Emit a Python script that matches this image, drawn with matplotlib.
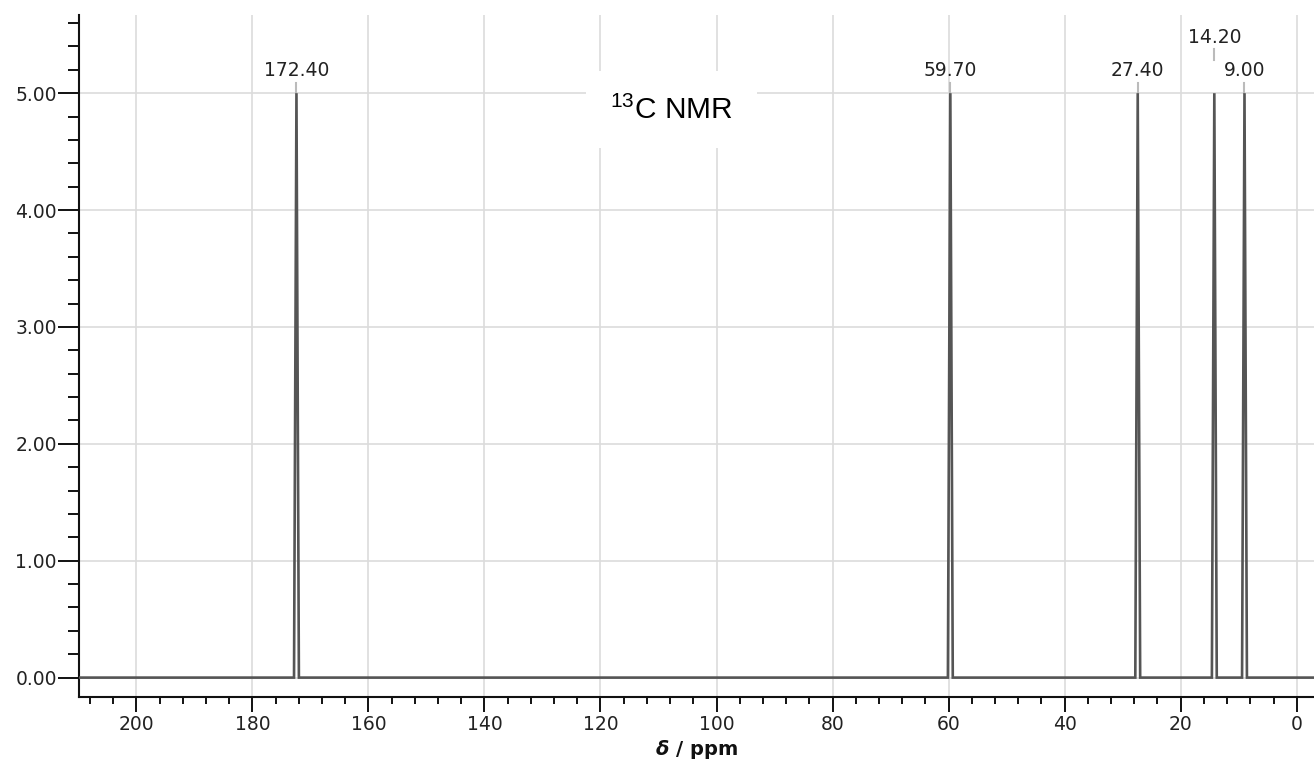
import numpy as np
import matplotlib
matplotlib.use("Agg")
import matplotlib.pyplot as plt
from matplotlib.ticker import MultipleLocator, FormatStrFormatter

plt.rcParams['mathtext.fontset'] = 'custom'
plt.rcParams['mathtext.rm'] = 'Liberation Sans'
plt.rcParams['mathtext.it'] = 'DejaVu Sans:italic'
plt.rcParams['mathtext.bf'] = 'DejaVu Sans:bold'
plt.rcParams['mathtext.bfit'] = 'DejaVu Sans:italic:bold'

# data
peak_ppm = [172.40, 59.70, 27.40, 14.20, 9.00]
peak_int = [5.0, 5.0, 5.0, 5.0, 5.0]
peak_labels = ["172.40", "59.70", "27.40", "14.20", "9.00"]
label_raised = [False, False, False, True, False]
title_text = r"$^{13}$C NMR"

half_width = 0.42
x_left, x_right = 209.88, -2.98

# build triangle spectrum
xs = [x_left]
ys = [0.0]
for p, h in sorted(zip(peak_ppm, peak_int), key=lambda t: -t[0]):
    xs += [p + half_width, p, p - half_width]
    ys += [0.0, h, 0.0]
xs.append(x_right)
ys.append(0.0)

fig = plt.figure(figsize=(13.14, 7.62), dpi=100)
ax = fig.add_axes([79 / 1314, 65 / 762, 1 - 79 / 1314, (697 - 15) / 762])

ax.set_xlim(x_left, x_right)
ax.set_ylim(-0.166, 5.669)

ax.plot(xs, ys, color='#555555', lw=1.9, solid_joinstyle='miter', zorder=3)

# grid
ax.xaxis.set_major_locator(MultipleLocator(20))
ax.xaxis.set_minor_locator(MultipleLocator(4))
ax.yaxis.set_major_locator(MultipleLocator(1))
ax.yaxis.set_minor_locator(MultipleLocator(0.2))
ax.yaxis.set_major_formatter(FormatStrFormatter('%.2f'))
ax.grid(True, which='major', color='#dcdcdc', lw=1.2, zorder=0)

for s in ['top', 'right']:
    ax.spines[s].set_visible(False)
for s in ['left', 'bottom']:
    ax.spines[s].set_linewidth(1.5)
    ax.spines[s].set_color('#111111')

ax.tick_params(axis='y', which='major', direction='out', length=15, width=1.4,
               labelsize=13.5, colors='#111111', pad=1)
ax.tick_params(axis='y', which='minor', direction='out', length=8, width=1.4, colors='#111111')
ax.tick_params(axis='x', which='major', direction='out', length=11, width=1.4,
               labelsize=13.5, colors='#111111', pad=2)
ax.tick_params(axis='x', which='minor', direction='out', length=5.3, width=1.4, colors='#111111')
for lab in ax.get_xticklabels() + ax.get_yticklabels():
    lab.set_color('#222222')

ax.set_xlabel(r"$\boldsymbol{\delta}$ / ppm", fontsize=14, fontweight='bold',
              color='#111111', labelpad=3)

# peak labels
for p, h, lab, raised in zip(peak_ppm, peak_int, peak_labels, label_raised):
    if raised:
        y0, y1, yt = h + 0.28, h + 0.38, h + 0.48
    else:
        y0, y1, yt = h, h + 0.09, h + 0.19
    ax.plot([p, p], [y0, y1], color='#bbbbbb', lw=1.5, zorder=2)
    ax.text(p, yt, lab, ha='center', va='center', fontsize=13.5,
            color='#222222', family='DejaVu Sans', zorder=4)

ax.text(107.7, 4.86, title_text, ha='center', va='center', fontsize=21.5,
        family='Liberation Sans', color='black', zorder=5,
        bbox=dict(boxstyle='square,pad=0.8', fc='white', ec='none'))

fig.savefig('out.png', dpi=100)
